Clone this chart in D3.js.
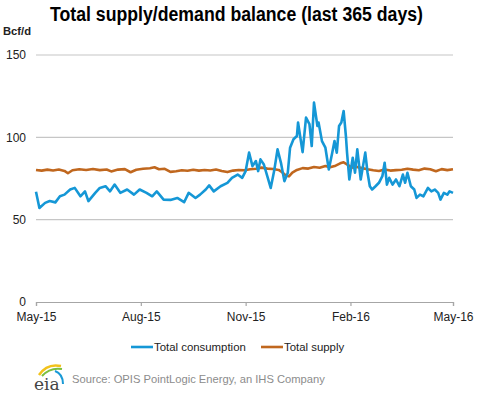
<!DOCTYPE html>
<html>
<head>
<meta charset="utf-8">
<script src="https://cdn.jsdelivr.net/npm/d3@7"></script>
<style>
  body { margin: 0; background: #fff; }
  svg { display: block; font-family: "Liberation Sans", Arial, sans-serif; }
</style>
</head>
<body>
<div id="chart"></div>
<script>
// start of the 365 day window
var startDate = new Date(2015, 4, 1);

// total consumption, Bcf/d (day offset from startDate, value)
var consDays = [0, 3, 8, 12, 17, 21, 25, 30, 34, 39, 43, 46, 52, 56, 61, 65, 69, 74, 80, 86, 91, 97, 102, 106, 112, 118, 124, 130, 134, 140,
  144, 149, 152, 156, 162, 168, 172, 177, 181, 184, 187, 190, 193, 195, 197, 200, 203, 206, 209, 212, 215, 218, 221, 223, 226, 229, 230, 234, 237, 240,
  242, 244, 247, 248, 251, 254, 257, 260, 262, 264, 266, 268, 270, 272, 273, 275, 278, 280, 282, 285, 287, 289, 291, 293, 295, 298, 301, 304, 306, 308,
  310, 313, 316, 319, 322, 324, 326, 329, 332, 334, 337, 340, 344, 347, 350, 353, 355, 358, 361, 363, 366];
var consVals = [66.9, 57.1, 60.2, 61.3, 60.5, 64.2, 65.2, 68.3, 69.3, 64.2, 67.2, 61.3, 66.3, 69.3, 70.3, 67.2, 71.3, 66.3, 68.3, 65.2,
  68.3, 66.3, 64.2, 67.2, 62.2, 62.0, 63.2, 60.6, 66.3, 63.2,
  65.2, 68.3, 70.8, 67.2, 70.3, 72.3, 75.4, 77.4, 75.4, 79.5, 90.7, 82.5, 85.6, 79.5, 86.6, 83.5, 76.4, 69.3, 79.5, 92.7,
  84.5, 73.4, 78.5, 93.7, 98.8, 100.8, 109.0, 91.0, 112.0, 108.0,
  94.7, 121.1, 106.9, 109.0, 97.7, 93.7, 80.5, 90.7, 97.7, 90.7, 106.9, 109.0, 116.0, 100.8, 90.7, 74.4, 87.6, 78.5, 92.7, 74.4,
  82.5, 90.7, 78.5, 70.3, 68.3, 70.3, 72.4, 76.4, 84.6, 71.3,
  75.4, 71.3, 74.4, 70.3, 77.4, 72.4, 78.5, 70.3, 68.3, 63.2, 65.2, 64.2, 69.3, 67.2, 68.3, 66.3, 62.2, 66.3, 65.2, 67.2, 66.3];

// total supply, Bcf/d
var supDays = [0, 5, 10, 15, 20, 25, 28, 32, 38, 44, 50, 56, 62, 66, 72, 78, 83, 88, 94, 100, 104, 108, 113, 118, 123, 128, 133, 138, 143, 148,
  153, 158, 163, 168, 173, 178, 183, 188, 193, 198, 203, 208, 213, 216, 219, 222, 225, 229, 234, 239, 244, 249, 254, 258, 263, 267, 270, 273, 277, 281,
  286, 291, 296, 301, 306, 311, 316, 321, 326, 331, 336, 341, 346, 351, 356, 361, 366];
var supVals = [80.2, 79.8, 80.4, 79.9, 80.5, 79.6, 78.2, 80.0, 80.6, 80.2, 80.8, 80.1, 80.5, 79.3, 80.4, 80.7, 78.8, 80.3, 80.9, 81.2,
  81.8, 80.6, 80.9, 79.0, 79.4, 80.0, 79.7, 80.3, 79.8, 80.2,
  79.9, 80.5, 79.6, 78.9, 79.8, 80.2, 80.0, 80.6, 80.9, 81.6, 81.0, 80.8, 80.2, 78.8, 77.0, 76.3, 78.6, 80.2, 81.3, 81.0,
  82.0, 81.5, 82.6, 81.8, 82.8, 84.2, 84.8, 83.6, 81.6, 82.2,
  81.3, 80.6, 80.0, 79.6, 80.5, 79.8, 80.1, 80.3, 80.9, 80.4, 80.0, 81.0, 80.6, 79.4, 80.7, 80.1, 80.6];

var yTicks = [0, 50, 100, 150];
var xTicks = ['2015-05-01', '2015-08-01', '2015-11-01', '2016-02-01', '2016-05-01'];
var seriesNames = ['Total consumption', 'Total supply'];
var seriesColors = ['#1597d6', '#c0671e'];

var WIDTH = 477, HEIGHT = 393;
var margin = {left: 36, right: 24, top: 55, bottom: 91};

var svg = d3.select('#chart').append('svg')
  .attr('width', WIDTH)
  .attr('height', HEIGHT);

var x = d3.scaleTime()
  .domain([startDate, new Date(2016, 4, 1)])
  .range([margin.left, WIDTH - margin.right]);
var y = d3.scaleLinear()
  .domain([0, 150])
  .range([HEIGHT - margin.bottom, margin.top]);

var parse = d3.timeParse('%Y-%m-%d');
var toDate = d => d3.timeDay.offset(startDate, d);

//标题 (字体较窄，用 textLength 压缩)
svg.append('text')
  .attr('x', 50)
  .attr('y', 21)
  .attr('textLength', 373)
  .attr('lengthAdjust', 'spacingAndGlyphs')
  .style('font-weight', 'bold')
  .style('font-size', '20px')
  .attr('fill', '#000')
  .text('Total supply/demand balance (last 365 days)');

svg.append('text')
  .attr('x', 3)
  .attr('y', 35)
  .attr('textLength', 28)
  .attr('lengthAdjust', 'spacingAndGlyphs')
  .style('font-weight', 'bold')
  .style('font-size', '11.5px')
  .attr('fill', '#222')
  .text('Bcf/d');

//网格
svg.append('g')
  .selectAll('line')
  .data(yTicks.filter(d => d > 0))
  .enter()
  .append('line')
  .attr('x1', margin.left)
  .attr('x2', WIDTH - margin.right)
  .attr('y1', d => y(d))
  .attr('y2', d => y(d))
  .attr('stroke', '#c6c6c6')
  .attr('stroke-width', 1.2);

var yAxis = svg.append('g')
  .attr('transform', 'translate(' + margin.left + ',0)')
  .call(d3.axisLeft(y).tickValues(yTicks).tickSize(0).tickPadding(10));
yAxis.select('.domain').remove();
yAxis.selectAll('text')
  .style('font-size', '12px')
  .style('font-family', '"Liberation Sans", Arial, sans-serif')
  .attr('fill', '#222');

var xAxis = svg.append('g')
  .attr('transform', 'translate(0,' + y(0) + ')')
  .call(d3.axisBottom(x).tickValues(xTicks.map(parse)).tickFormat(d3.timeFormat('%b-%y')).tickSize(4).tickPadding(6));
xAxis.select('.domain').attr('stroke', '#a6a6a6').attr('stroke-width', 1.2);
xAxis.selectAll('.tick line').attr('stroke', '#a6a6a6').attr('stroke-width', 1.2);
xAxis.selectAll('text')
  .style('font-size', '12px')
  .style('font-family', '"Liberation Sans", Arial, sans-serif')
  .attr('fill', '#222');

//曲线
var line = d3.line()
  .x(d => x(toDate(d[0])))
  .y(d => y(d[1]));

svg.append('path')
  .datum(supDays.map((d, i) => [d, supVals[i]]))
  .attr('fill', 'none')
  .attr('stroke', seriesColors[1])
  .attr('stroke-width', 2.6)
  .attr('stroke-linejoin', 'round')
  .attr('d', line);

svg.append('path')
  .datum(consDays.map((d, i) => [d, consVals[i]]))
  .attr('fill', 'none')
  .attr('stroke', seriesColors[0])
  .attr('stroke-width', 2.6)
  .attr('stroke-linejoin', 'round')
  .attr('d', line);

//图例
var legendX = [131, 261];
var legend = svg.append('g')
  .selectAll('g')
  .data(seriesNames)
  .enter()
  .append('g')
  .attr('transform', (d, i) => 'translate(' + legendX[i] + ',347)');
legend.append('line')
  .attr('x1', 0).attr('x2', 22)
  .attr('stroke', (d, i) => seriesColors[i])
  .attr('stroke-width', 2.6);
legend.append('text')
  .attr('x', 23)
  .attr('dy', '0.35em')
  .style('font-size', '11.4px')
  .attr('fill', '#222')
  .text(d => d);

//来源
svg.append('text')
  .attr('x', 72)
  .attr('y', 383)
  .style('font-size', '11.2px')
  .attr('fill', '#8c8c8c')
  .text('Source: OPIS PointLogic Energy, an IHS Company');

// eia logo
var logo = svg.append('g').attr('transform', 'translate(33,362)');
logo.append('path').attr('d', 'M6,13 Q14,1 28,4').attr('fill', 'none').attr('stroke', '#f2c21b').attr('stroke-width', 2.5);
logo.append('path').attr('d', 'M9,14 Q17,5 29,7').attr('fill', 'none').attr('stroke', '#7bbf3f').attr('stroke-width', 2);
logo.append('path').attr('d', 'M22,9 Q30,12 30,22').attr('fill', 'none').attr('stroke', '#1a9ad6').attr('stroke-width', 2);
logo.append('text')
  .attr('x', 1)
  .attr('y', 28)
  .style('font-family', '"DejaVu Serif", "Liberation Serif", serif')
  .style('font-size', '17px')
  .attr('fill', '#444')
  .text('eia');
</script>
</body>
</html>
